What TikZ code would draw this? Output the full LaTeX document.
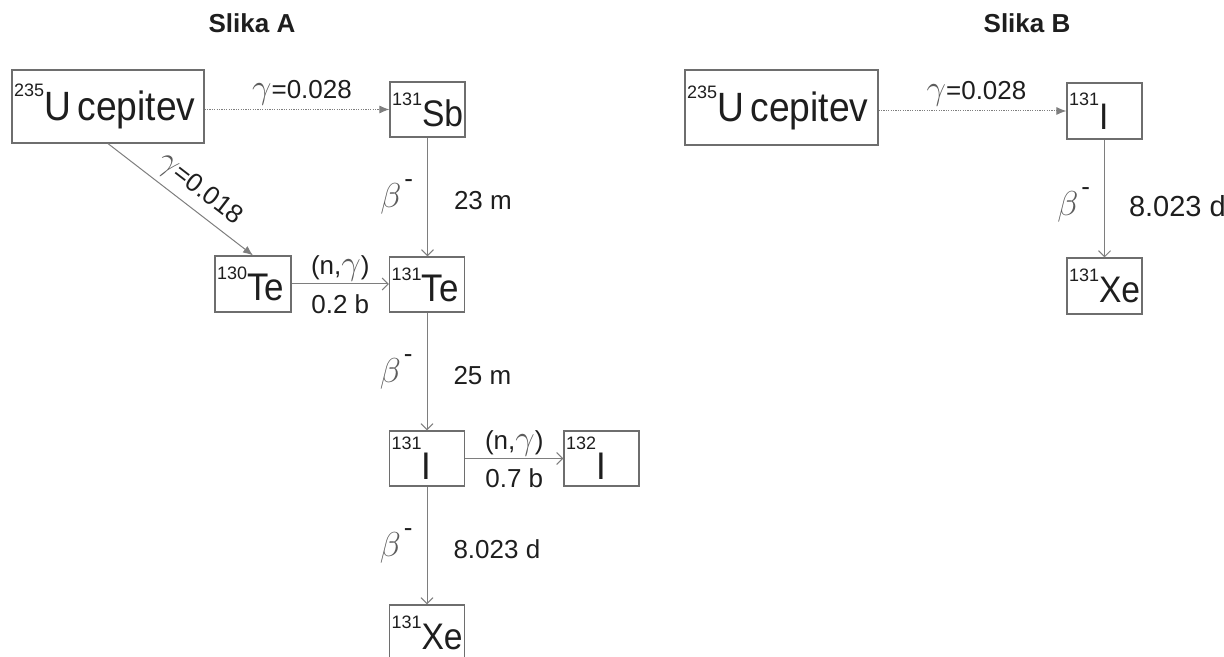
\documentclass[tikz,border=0pt]{standalone}
\usepackage{fontspec}
\setmainfont{Liberation Sans}
\usepackage{xcolor}
\usepackage{tikz}
\usetikzlibrary{arrows.meta, calc}
\definecolor{ink}{HTML}{1E1E1E}
\definecolor{wire}{HTML}{7E7E7E}
\definecolor{edge}{HTML}{6E6E6E}
\definecolor{greek}{HTML}{5C5C5C}
% nuclide label: size, raise, mass number, symbol
\newcommand{\nuc}[4]{\raisebox{#2}{\fontsize{9}{9}\selectfont #3}\scalebox{1}[1.1]{\fontsize{#1}{#1}\selectfont #4}}
\newcommand{\gam}{{\color{greek}\fontsize{17}{17}\selectfont$\gamma$}}
\newcommand{\betam}{{\color{greek}\fontsize{16}{16}\selectfont$\beta$}\hspace{1.5pt}\raisebox{10pt}{-}}

\begin{document}
\begin{tikzpicture}[x=0.5pt, y=-0.5pt,
  nuc/.style={draw=edge, line width=0.6pt, text=ink, inner xsep=1pt, inner ysep=0pt,
    text width=35.5pt, align=left, minimum height=27.5pt},
  lbl/.style={text=ink, font=\fontsize{13}{15}\selectfont, inner sep=1pt},
  headline/.style={text=ink, font=\bfseries\fontsize{13}{15}\selectfont},
  yield/.style={draw=wire, line width=0.5pt, dash pattern=on 0.6pt off 0.6pt,
    -{Latex[length=5pt,width=4pt]}},
  branch/.style={draw=wire, line width=0.5pt, -{Latex[length=5pt,width=4pt]}},
  react/.style={draw=wire, line width=0.5pt, -{Straight Barb[length=3pt,width=6pt]}}]
  \useasboundingbox (0,0) rectangle (1224,657);

  % Slika A
  \node[headline] (titA) at (252,23) {Slika A};
  \node[nuc, text width=94pt, minimum height=36.5pt] (fisA) at (108,106.5) {\nuc{18.6}{12pt}{235}{U cepitev}};
  \node[nuc] (sb131) at (427.5,109.5) {\nuc{16.8}{10.5pt}{131}{Sb}};
  \node[nuc, text width=36pt, minimum height=28pt] (te130) at (253,284) {\nuc{17.5}{10.5pt}{130}{Te}};
  \node[nuc] (te131) at (427,284.5) {\nuc{17.5}{10.5pt}{131}{Te}};
  \node[nuc] (i131A) at (427,458.5) {\nuc{17.5}{15pt}{131}{I}};
  \node[nuc] (i132) at (601.5,458.5) {\nuc{17.5}{15pt}{132}{I}};
  \node[nuc] (xe131A) at (427,632.5) {\nuc{16.8}{10.5pt}{131}{Xe}};

  \draw[yield] (fisA.east |- sb131.west) -- (sb131.west)
    node[lbl, midway, above=1pt, xshift=2.5pt] (gamA) {\gam=0.028};
  \draw[branch] (fisA.south) -- (te130.north)
    node[lbl, pos=0.55, sloped, above=2pt] (gamD) {\gam=0.018};
  \draw[react] (te130.east) -- (te130.east -| te131.west)
    node[lbl, midway, above=0pt] (ngA) {(n,\gam)}
    node[lbl, midway, below=4pt] (sigA) {0.2 b};
  \draw[react] (i131A.east) -- (i131A.east -| i132.west)
    node[lbl, midway, above=0pt] (ngB) {(n,\gam)}
    node[lbl, midway, below=4pt] (sigB) {0.7 b};
  \foreach \src/\dst/\half in {sb131/te131/23 m, te131/i131A/25 m, i131A/xe131A/8.023 d}{
    \draw[react] (\src.south) -- (\src.south |- \dst.north)
      node[lbl, midway, left=6pt] (beta-\src) {\betam}
      node[lbl, midway, right=12pt, yshift=-2pt] (half-\src) {\half};
  }

  % Slika B
  \node[headline] (titB) at (1027,23) {Slika B};
  \node[nuc, text width=94.5pt, minimum height=37.5pt] (fisB) at (781.5,107.5) {\nuc{18.6}{11.5pt}{235}{U cepitev}};
  \node[nuc, minimum height=28pt] (i131B) at (1104.5,111) {\nuc{16.8}{12pt}{131}{I}};
  \node[nuc, minimum height=28pt] (xe131B) at (1104.5,286) {\nuc{16.8}{10.5pt}{131}{Xe}};

  \draw[yield] (fisB.east |- i131B.west) -- (i131B.west)
    node[lbl, midway, above=1pt, xshift=2pt] (gamB) {\gam=0.028};
  \draw[react] (i131B.south) -- (xe131B.north)
    node[lbl, midway, left=6pt, yshift=-3pt] (betaB) {\betam}
    node[lbl, midway, right=11pt, yshift=-4pt, font=\fontsize{14.5}{16}\selectfont] (halfB) {8.023 d};
\end{tikzpicture}
\end{document}
